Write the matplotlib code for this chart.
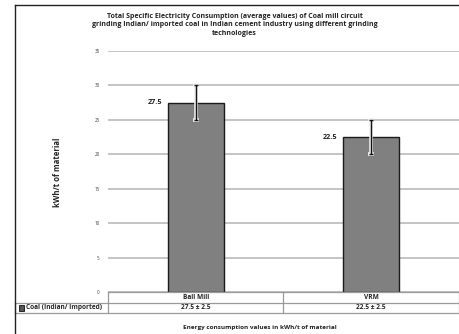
import matplotlib
matplotlib.use("Agg")
import matplotlib.pyplot as plt
from matplotlib.lines import Line2D
from matplotlib.patches import Rectangle

categories = ["Ball Mill", "VRM"]
values = [27.5, 22.5]
errors = [2.5, 2.5]
series_name = "Coal (Indian/ Imported)"
table_values = ["27.5 ± 2.5", "22.5 ± 2.5"]
yticks = [0, 5, 10, 15, 20, 25, 30, 35]
title = ("Total Specific Electricity Consumption (average values) of Coal mill circuit\n"
         "grinding Indian/ imported coal in Indian cement industry using different grinding\n"
         "technologies")
ylabel = "kWh/t of material"
xlabel = "Energy consumption values in kWh/t of material"

plt.rcParams['font.family'] = ['Open Sans', 'DejaVu Sans']

W, H = 460, 334
fig = plt.figure(figsize=(W / 100, H / 100), dpi=100)
ax_left, ax_right = 108 / W, 459 / W
ax_bottom, ax_top = 1 - 292 / H, 1 - 51 / H
ax = fig.add_axes([ax_left, ax_bottom, ax_right - ax_left, ax_top - ax_bottom])

x = list(range(len(categories)))
ax.bar(x, values, width=0.32, color="#808080", edgecolor="#1a1a1a", linewidth=1.0, zorder=3)
# light halo under the error bar, then the dark error bar
ax.errorbar(x, values, yerr=errors, fmt="none", ecolor="#eeeeee", elinewidth=2.6,
            capsize=2.0, capthick=2.6, zorder=4)
ax.errorbar(x, values, yerr=errors, fmt="none", ecolor="#111111", elinewidth=1.0,
            capsize=1.5, capthick=1.0, zorder=5)

for xi, v in zip(x, values):
    ax.annotate(f"{v}", xy=(xi - 0.16, v), xytext=(-4, 0), textcoords="offset points",
                ha="right", va="center", fontsize=5.2, fontweight="bold", color="#222222")

ax.set_xlim(-0.5, len(categories) - 0.5)
ax.set_ylim(0, 35)
ax.set_yticks(yticks)
ax.set_yticklabels([str(t) for t in yticks], fontsize=3.3, color="#444444")
ax.tick_params(axis="y", length=0, pad=6)
ax.set_xticks([])
ax.yaxis.grid(True, color="#c4c4c4", linewidth=1.4, zorder=0)
ax.set_axisbelow(True)
for s in ["top", "right", "left", "bottom"]:
    ax.spines[s].set_visible(False)

# y label
fig.text(58 / W, 1 - 172 / H, ylabel, rotation=90, ha="center", va="center",
         fontsize=5.6, fontweight="bold", color="#222222")

# title
fig.text(0.5 + 0.01, 1 - 25 / H, title, ha="center", va="center", fontsize=5.05,
         fontweight="bold", color="#222222", linespacing=1.35)

# data table
row_h = 10.5 / 241 * 35
tcol_left = -0.5 - (108 - 15) / 176.0
lc = "#9a9a9a"
y0 = 0
y1 = -row_h
y2 = -2 * row_h
for yy, xs in [(y0, -0.5), (y1, tcol_left), (y2, tcol_left)]:
    ax.add_line(Line2D([xs, 1.5], [yy, yy], color=lc, linewidth=0.9, clip_on=False, zorder=5))
for xv, ys in [(tcol_left, y1), (-0.5, y0), (0.5, y0), (1.5, y0)]:
    ax.add_line(Line2D([xv, xv], [ys, y2], color=lc, linewidth=0.9, clip_on=False, zorder=5))
for xi, cat, tv in zip(x, categories, table_values):
    ax.text(xi, (y0 + y1) / 2, cat, ha="center", va="center", fontsize=4.7,
            fontweight="bold", color="#222222", clip_on=False)
    ax.text(xi, (y1 + y2) / 2, tv, ha="center", va="center", fontsize=4.7,
            fontweight="bold", color="#222222", clip_on=False)
key_w = 0.032
ax.add_patch(Rectangle((tcol_left + 0.02, (y1 + y2) / 2 - 0.42), key_w, 0.84,
                       facecolor="#555555", edgecolor="#111111", linewidth=0.6,
                       clip_on=False, zorder=6))
ax.text(tcol_left + 0.02 + key_w + 0.008, (y1 + y2) / 2, series_name, ha="left", va="center",
        fontsize=4.7, fontweight="bold", color="#222222", clip_on=False)

# x label
fig.text(0.565, 1 - 327 / H, xlabel, ha="center", va="center", fontsize=4.6,
         fontweight="bold", color="#222222")

# figure border
fig.add_artist(Line2D([15 / W, 15 / W], [0, 1 - 5 / H], color="#222222", linewidth=1.0,
                      transform=fig.transFigure))
fig.add_artist(Line2D([15 / W, 1], [1 - 5 / H, 1 - 5 / H], color="#222222", linewidth=1.0,
                      transform=fig.transFigure))

fig.savefig("out.png", dpi=100)
